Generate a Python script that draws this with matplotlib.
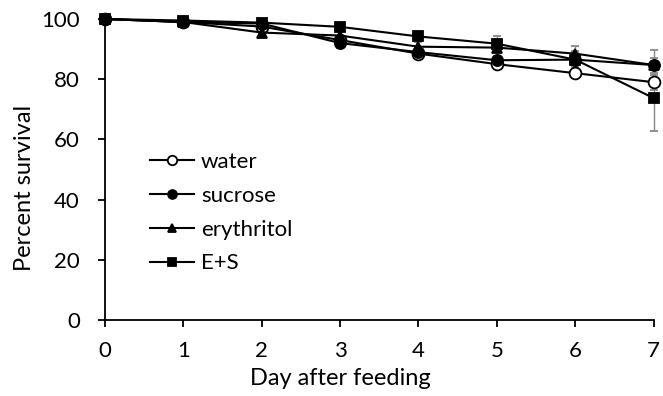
import numpy as np
import matplotlib.pyplot as plt
from matplotlib.container import ErrorbarContainer

plt.rcParams['font.family'] = ['Lato', 'DejaVu Sans']

days = [0, 1, 2, 3, 4, 5, 6, 7]
water = [100, 99, 97.5, 93, 88.5, 85, 82, 79]
water_err = [0.5, 0.8, 1.0, 1.5, 1.5, 1.5, 1.5, 2.5]
sucrose = [100, 99, 98.5, 92, 89, 86.3, 86.5, 84.7]
sucrose_err = [0.5, 0.8, 1.0, 1.5, 1.5, 1.5, 2.5, 5.0]
erythritol = [100, 99, 95.5, 94.5, 90.8, 90.5, 88.5, 84.7]
erythritol_err = [0.5, 0.8, 1.5, 1.5, 1.5, 1.5, 2.5, 2.5]
es = [100, 99.5, 98.8, 97.4, 94.2, 91.8, 86.5, 73.7]
es_err = [0.5, 0.8, 1.0, 1.0, 1.5, 2.5, 3.0, 11.0]

fig = plt.figure(figsize=(6.63, 3.96), dpi=100)
ax = fig.add_axes([0.158, 0.192, 0.828, 0.760])

series = [
    ("water", water, water_err, 'o', 'white', 8.5),
    ("sucrose", sucrose, sucrose_err, 'o', 'black', 8),
    ("erythritol", erythritol, erythritol_err, '^', 'black', 7.5),
    ("E+S", es, es_err, 's', 'black', 7),
]
for name, y, err, m, fc, ms in series:
    ax.errorbar(days, y, yerr=err, color='black', lw=1.5, marker=m,
                mfc=fc, mec='black', mew=1.3, ms=ms, ecolor='#888888',
                elinewidth=1.0, capsize=3, capthick=1.0, label=name,
                clip_on=False, zorder=3)

ax.set_xlim(0, 7)
ax.set_ylim(0, 100)
ax.set_xticks(days)
ax.set_yticks([0, 20, 40, 60, 80, 100])
for s in ['top', 'right']:
    ax.spines[s].set_visible(False)
for s in ['left', 'bottom']:
    ax.spines[s].set_linewidth(1.3)
ax.tick_params(direction='out', length=5, width=1.3, labelsize=16)
ax.tick_params(axis='x', pad=10)
ax.tick_params(axis='y', pad=13)
ax.set_xlabel("Day after feeding", fontsize=17)
ax.set_ylabel("Percent survival", fontsize=17)
ax.xaxis.set_label_coords(0.43, -0.16)
ax.yaxis.set_label_coords(-0.127, 0.44)

handles, labels = ax.get_legend_handles_labels()
handles = [h[0] if isinstance(h, ErrorbarContainer) else h for h in handles]
ax.legend(handles, labels, loc='upper left', bbox_to_anchor=(0.062, 0.595),
          frameon=False, fontsize=16, handlelength=2.0, handletextpad=0.3,
          labelspacing=0.62, markerscale=0.8, borderpad=0)

fig.savefig("out.png", dpi=100)
